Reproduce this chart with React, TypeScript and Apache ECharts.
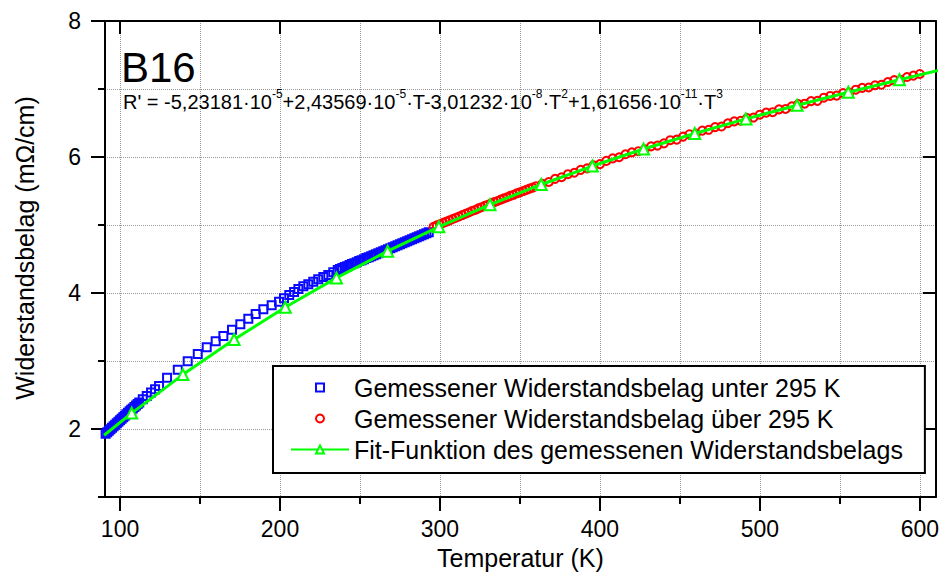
import React, { useEffect, useRef } from "react";
import * as echarts from "echarts";

const FONT = "'Liberation Sans', Arial, Helvetica, sans-serif";

// Axis ticks
const xMajorTicks = [100, 200, 300, 400, 500, 600];
const xMinorTicks = [150, 250, 350, 450, 550];
const yMajorTicks = [2, 4, 6, 8];
const yMinorTicks = [1, 3, 5, 7];

const seriesNames = [
  "Gemessener Widerstandsbelag unter 295 K",
  "Gemessener Widerstandsbelag über 295 K",
  "Fit-Funktion des gemessenen Widerstandsbelags",
];

// Measured below 295 K (temperature K, resistance per length mOhm/cm)
const blueT = [
  91, 92, 93, 94, 95, 96, 97, 98, 99, 100, 101, 102, 103, 104, 105, 106, 107, 108, 109, 110, 111,
  112, 114.2, 116.7, 119.4, 121.9, 124.4, 129.4, 136.1, 142.3, 148.6, 154.2, 159.8, 164.6, 170,
  175.2, 180.2, 184.8, 189.6, 194.8, 199.4, 202.5, 205.8, 208.8, 211.5, 214.6, 217.7, 220.8, 223.9,
  227.1, 230.2, 233.3, 236.1, 237.5, 239, 240.5, 242, 243.5, 245, 246.5, 248, 249.5, 251, 252.5,
  254, 255.5, 257, 258.5, 260, 261.5, 263, 264.5, 266, 267.5, 269, 270.5, 272, 273.5, 275, 276.5,
  278, 279.5, 281, 282.5, 284, 285.5, 287, 288.5, 290, 291.5, 293,
];
const blueR = [
  1.93, 1.952, 1.975, 1.997, 2.019, 2.041, 2.063, 2.085, 2.107, 2.129, 2.151, 2.173, 2.195, 2.217,
  2.239, 2.261, 2.282, 2.303, 2.324, 2.345, 2.366, 2.39, 2.436, 2.487, 2.538, 2.585, 2.632, 2.755,
  2.873, 2.995, 3.103, 3.201, 3.29, 3.368, 3.46, 3.539, 3.622, 3.691, 3.76, 3.819, 3.872, 3.921,
  3.971, 4.015, 4.06, 4.1, 4.13, 4.166, 4.201, 4.235, 4.265, 4.304, 4.338, 4.352, 4.366, 4.381,
  4.395, 4.41, 4.425, 4.439, 4.454, 4.469, 4.483, 4.498, 4.513, 4.527, 4.542, 4.556, 4.571, 4.586,
  4.6, 4.615, 4.63, 4.644, 4.659, 4.673, 4.688, 4.703, 4.717, 4.732, 4.747, 4.761, 4.776, 4.79,
  4.805, 4.82, 4.834, 4.849, 4.864, 4.878, 4.893,
];

// Measured above 295 K
const redT = [
  296, 298, 300, 302, 304, 306, 308, 310, 312, 314, 316, 318, 320, 322, 324, 326, 328, 330, 332,
  334, 336, 338, 340, 342, 344, 346, 348, 350, 352, 354, 356, 358, 360, 364, 368, 372, 376, 380,
  384, 388, 392, 396, 400, 404, 408, 412, 416, 420, 424, 428, 432, 436, 440, 444, 448, 452, 456,
  460, 464, 468, 472, 476, 480, 484, 488, 492, 496, 500, 504, 508, 512, 516, 520, 524, 528, 532,
  536, 540, 544, 548, 552, 556, 560, 564, 568, 572, 576, 580, 584, 588, 592, 596, 600,
];
const redR = [
  4.973, 4.994, 5.01, 5.031, 5.05, 5.068, 5.088, 5.106, 5.125, 5.146, 5.166, 5.184, 5.206, 5.221,
  5.244, 5.261, 5.281, 5.298, 5.32, 5.336, 5.353, 5.374, 5.391, 5.408, 5.429, 5.444, 5.465, 5.48,
  5.499, 5.516, 5.535, 5.55, 5.57, 5.607, 5.632, 5.679, 5.702, 5.747, 5.768, 5.811, 5.832, 5.878,
  5.895, 5.943, 5.98, 5.996, 6.04, 6.069, 6.085, 6.112, 6.157, 6.168, 6.2, 6.247, 6.255, 6.299,
  6.335, 6.343, 6.388, 6.4, 6.439, 6.448, 6.496, 6.524, 6.533, 6.573, 6.58, 6.622, 6.653, 6.659,
  6.701, 6.706, 6.745, 6.779, 6.784, 6.822, 6.826, 6.872, 6.898, 6.903, 6.941, 6.949, 6.99, 7.017,
  7.022, 7.055, 7.062, 7.103, 7.13, 7.135, 7.176, 7.197, 7.221,
];

// Fit curve points (triangles at marked points, plain line ends)
const fitT = [
  90, 107.3, 139.3, 171.3, 203.3, 235.3, 267.3, 299.3, 331.3, 363.3, 395.3, 427.3, 459.3, 491.3,
  523.3, 555.3, 587.3, 619.3,
];
const fitR = [
  1.908, 2.234, 2.8, 3.317, 3.79, 4.222, 4.615, 4.973, 5.299, 5.596, 5.867, 6.117, 6.346, 6.56,
  6.761, 6.952, 7.137, 7.318,
];
const fitMarked = [
  false, true, true, true, true, true, true, true, true, true, true, true, true, true, true, true,
  true, false,
];

const X_MIN = 90.6;
const X_MAX = 610;
const Y_MIN = 1;
const Y_MAX = 8;

export default function App() {
  const ref = useRef<HTMLDivElement>(null);

  useEffect(() => {
    document.body.style.margin = "0";
    const chart = echarts.init(ref.current as HTMLDivElement, null, { renderer: "svg" });

    const black = "#000";
    const gridLine = { show: true, lineStyle: { color: "#9a9a9a", type: "dotted" as const, width: 1 } };
    const axisLineStyle = { color: black, width: 2 };

    const xBase = { type: "value" as const, min: X_MIN, max: X_MAX };
    const yBase = { type: "value" as const, min: Y_MIN, max: Y_MAX };

    const option: any = {
      animation: false,
      backgroundColor: "#fff",
      textStyle: { fontFamily: FONT },
      grid: { left: 105, right: 6, top: 21, bottom: 79, containLabel: false },
      xAxis: [
        {
          ...xBase,
          position: "bottom",
          name: "Temperatur (K)",
          nameLocation: "middle",
          nameGap: 48,
          nameTextStyle: { fontSize: 25, color: black, fontFamily: FONT },
          axisLine: { show: true, onZero: false, lineStyle: axisLineStyle },
          axisTick: { show: true, inside: false, length: 14, customValues: xMajorTicks, lineStyle: axisLineStyle },
          axisLabel: { show: true, customValues: xMajorTicks, fontSize: 23, color: black, fontFamily: FONT, margin: 20 },
          splitLine: gridLine,
        },
        {
          ...xBase,
          position: "bottom",
          axisLine: { show: false },
          axisTick: { show: true, inside: false, length: 7, customValues: xMinorTicks, lineStyle: axisLineStyle },
          axisLabel: { show: false },
          splitLine: gridLine,
        },
        {
          ...xBase,
          position: "top",
          axisLine: { show: true, onZero: false, lineStyle: axisLineStyle },
          axisTick: { show: true, inside: true, length: 13, customValues: xMajorTicks, lineStyle: axisLineStyle },
          axisLabel: { show: false },
          splitLine: { show: false },
        },
      ],
      yAxis: [
        {
          ...yBase,
          position: "left",
          name: "Widerstandsbelag (mΩ/cm)",
          nameLocation: "middle",
          nameGap: 68,
          nameTextStyle: { fontSize: 25, color: black, fontFamily: FONT, padding: [0, 0, 0, 22] },
          axisLine: { show: true, onZero: false, lineStyle: axisLineStyle },
          axisTick: { show: true, inside: false, length: 14, customValues: yMajorTicks, lineStyle: axisLineStyle },
          axisLabel: { show: true, customValues: yMajorTicks, fontSize: 23, color: black, fontFamily: FONT, margin: 24 },
          splitLine: gridLine,
        },
        {
          ...yBase,
          position: "left",
          axisLine: { show: false },
          axisTick: { show: true, inside: false, length: 7, customValues: yMinorTicks, lineStyle: axisLineStyle },
          axisLabel: { show: false },
          splitLine: gridLine,
        },
        {
          ...yBase,
          position: "right",
          axisLine: { show: true, onZero: false, lineStyle: axisLineStyle },
          axisTick: { show: true, inside: true, length: 13, customValues: yMajorTicks, lineStyle: axisLineStyle },
          axisLabel: { show: false },
          splitLine: { show: false },
        },
      ],
      legend: {
        left: 273,
        top: 366,
        orient: "vertical",
        backgroundColor: "#fff",
        borderColor: black,
        borderWidth: 2,
        borderRadius: 0,
        padding: [9, 22, 11, 17],
        itemGap: 6,
        itemWidth: 58,
        itemHeight: 10,
        selectedMode: false,
        textStyle: { fontSize: 25, color: black, fontFamily: FONT },
        data: [
          { name: seriesNames[0], lineStyle: { width: 0, opacity: 0 } },
          { name: seriesNames[1], lineStyle: { width: 0, opacity: 0 } },
          { name: seriesNames[2] },
        ],
      },
      series: [
        {
          name: seriesNames[0],
          type: "line",
          xAxisIndex: 0,
          yAxisIndex: 0,
          data: blueT.map((t, i) => [t, blueR[i]]),
          symbol: "rect",
          symbolSize: 8,
          showSymbol: true,
          lineStyle: { width: 0, opacity: 0 },
          itemStyle: { color: "rgba(0,0,0,0)", borderColor: "#0a0aff", borderWidth: 2 },
          emphasis: { disabled: true },
          z: 2,
        },
        {
          name: seriesNames[1],
          type: "line",
          xAxisIndex: 0,
          yAxisIndex: 0,
          data: redT.map((t, i) => [t, redR[i]]),
          symbol: "circle",
          symbolSize: 8,
          showSymbol: true,
          lineStyle: { width: 0, opacity: 0 },
          itemStyle: { color: "rgba(0,0,0,0)", borderColor: "#ff0000", borderWidth: 2 },
          emphasis: { disabled: true },
          z: 3,
        },
        {
          name: seriesNames[2],
          type: "line",
          xAxisIndex: 0,
          yAxisIndex: 0,
          data: fitT.map((t, i) =>
            fitMarked[i] ? { value: [t, fitR[i]] } : { value: [t, fitR[i]], symbol: "none" }
          ),
          symbol: "emptyTriangle",
          symbolSize: 11,
          showSymbol: true,
          lineStyle: { width: 3, color: "#00ff00" },
          itemStyle: { color: "#00ff00", borderWidth: 2 },
          emphasis: { disabled: true },
          z: 4,
        },
      ],
      graphic: [
        {
          type: "text",
          left: 121,
          top: 46,
          style: { text: "B16", fontSize: 42, fill: black, fontFamily: FONT },
          z: 10,
        },
        {
          type: "text",
          left: 123,
          top: 88,
          style: {
            text:
              "{n|R' = -5,23181·10}{s|-5}{n|+2,43569·10}{s|-5}{n|·T-3,01232·10}{s|-8}{n|·T}{s|2}{n|+1,61656·10}{s|-11}{n|·T}{s|3}",
            fill: black,
            fontFamily: FONT,
            rich: {
              n: { fontSize: 20, lineHeight: 24, fontFamily: FONT, fill: black, verticalAlign: "bottom" },
              s: { fontSize: 12, lineHeight: 13, fontFamily: FONT, fill: black, verticalAlign: "top" },
            },
          },
          z: 10,
        },
      ],
    };

    chart.setOption(option);
    return () => chart.dispose();
  }, []);

  return <div ref={ref} style={{ width: 942, height: 576 }} />;
}
